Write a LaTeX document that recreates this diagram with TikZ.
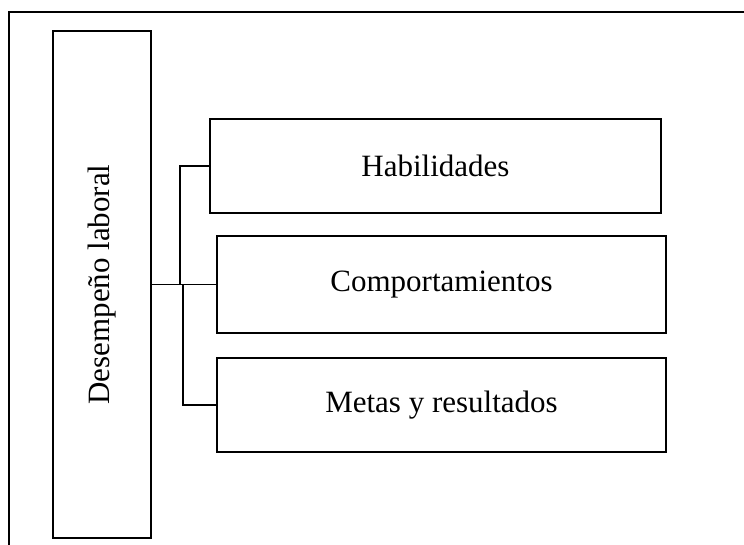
\documentclass[tikz,border=0pt]{standalone}
\usepackage{fontspec}
\setmainfont{Liberation Serif}
\usepackage{tikz}
\newcommand{\bfs}{\fontsize{31}{36}\selectfont}

\begin{document}
\begin{tikzpicture}[x=1pt, y=-1pt, line width=1.3pt]
      \useasboundingbox (0,0) rectangle (744,545);
      \tikzset{box/.style={draw, rectangle, inner sep=0pt, font=\bfs}}
      \draw (744,12) -- (9,12) -- (9,545);
      \node[box, minimum width=98pt, minimum height=507pt] (D) at (102,284.5) {};
      \node[rotate=90, font=\bfs] at (D) {Desempeño laboral};
      \node[box, minimum width=451pt, minimum height=94pt] (H) at (435.5,166) {Habilidades};
      \node[box, minimum width=449pt, minimum height=97pt] (C) at (441.5,284.5) {Comportamientos};
      \node[box, minimum width=449pt, minimum height=94pt] (M) at (441.5,405) {Metas y resultados};
      \coordinate (up) at (180,284.5);
      \coordinate (down) at (183,284.5);
      \draw (D.east) -- (C.west);
      \draw (up) |- (H.west);
      \draw (down) |- (M.west);
    \end{tikzpicture}
\end{document}
